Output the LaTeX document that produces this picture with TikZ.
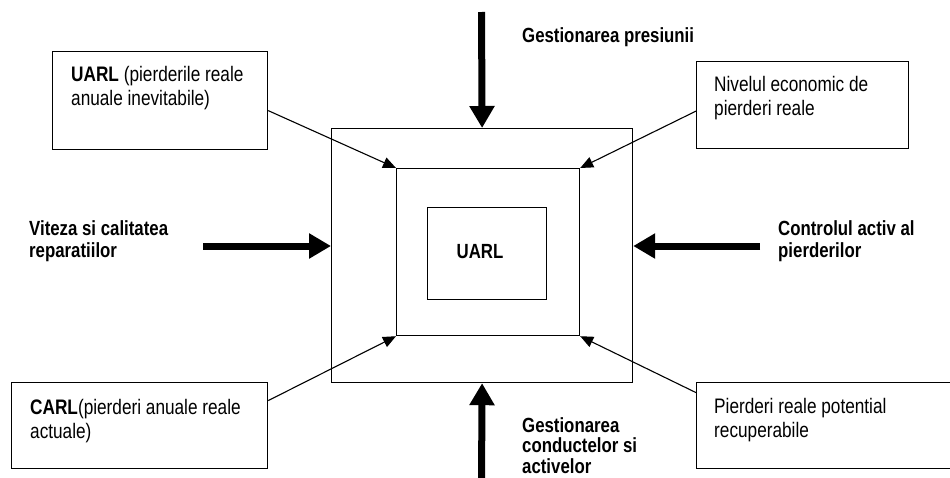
\documentclass[tikz,border=0pt]{standalone}
\usepackage{fontspec}
\setmainfont{Liberation Sans}[FakeStretch=0.82]
\usetikzlibrary{arrows.meta,calc}
\begin{document}
\begin{tikzpicture}[x=1pt,y=-1pt,
  box/.style={draw, line width=1.2pt, anchor=north west, inner sep=0pt},
  txt/.style={anchor=base west, inner sep=0pt, font=\fontsize{21}{24}\selectfont},
  lbl/.style={anchor=base west, inner sep=0pt, font=\fontsize{20.5}{22}\selectfont\bfseries},
  ptr/.style={line width=1.1pt, -{Triangle[width=11pt,length=13pt]}},
  bigarrow/.style={line width=7pt, -{Triangle[width=24pt,length=22pt]}}]
\useasboundingbox (0,0) rectangle (950,477);
% central squares
\node[box, minimum width=301pt, minimum height=254pt] (outer) at (331,128) {};
\node[box, minimum width=183pt, minimum height=167pt] (inner) at (396,168) {};
\node[box, minimum width=119pt, minimum height=92pt] (core) at (427,207) {};
\node[anchor=base, inner sep=0pt, font=\fontsize{20.5}{24}\selectfont\bfseries] (coretxt) at (480,258) {UARL};
% corner boxes
\node[box, minimum width=215pt, minimum height=98pt] (b1) at (52,51) {};
\node[txt] (t1) at (71,81) {\parbox[t]{190pt}{\textbf{UARL} (pierderile reale\\anuale inevitabile)}};
\node[box, minimum width=212pt, minimum height=87pt] (b2) at (696,61) {};
\node[txt] (t2) at (714,91) {\parbox[t]{190pt}{Nivelul economic de\\pierderi reale}};
\node[box, minimum width=256pt, minimum height=86pt] (b3) at (11,382) {};
\node[txt] (t3) at (30,414) {\parbox[t]{230pt}{\textbf{CARL}(pierderi anuale reale\\actuale)}};
\node[box, minimum width=256pt, minimum height=86pt] (b4) at (696,382) {};
\node[txt] (t4) at (714,413) {\parbox[t]{230pt}{Pierderi reale potential\\recuperabile}};
% thin connectors
\draw[ptr] ($(b1.east)+(0,10)$) -- (inner.north west);
\draw[ptr] ($(b2.west)+(0,6)$) -- (inner.north east);
\draw[ptr] ($(b3.east)+(0,-25)$) -- (inner.south west);
\draw[ptr] ($(b4.west)+(0,-33)$) -- (inner.south east);
% thick arrows
\coordinate (topstart) at (481.5,12);
\coordinate (botstart) at (481.5,480);
\coordinate (lstart) at (203,246);
\coordinate (rstart) at (760,246);
\draw[bigarrow] (topstart) -- (outer.north);
\draw[bigarrow] (botstart) -- (outer.south);
\draw[bigarrow] (lstart) -- (outer.west |- lstart);
\draw[bigarrow] (rstart) -- (outer.east |- rstart);
% labels
\node[lbl] (l1) at (522,42) {Gestionarea presiunii};
\node[lbl] (l2) at (29,235) {\parbox[t]{200pt}{Viteza si calitatea\\reparatiilor}};
\node[lbl] (l3) at (778,235) {\parbox[t]{170pt}{Controlul activ al\\pierderilor}};
\node[lbl] (l4) at (522,432) {\parbox[t]{200pt}{\baselineskip=20.5pt Gestionarea\\conductelor si\\activelor}};
\end{tikzpicture}
\end{document}
